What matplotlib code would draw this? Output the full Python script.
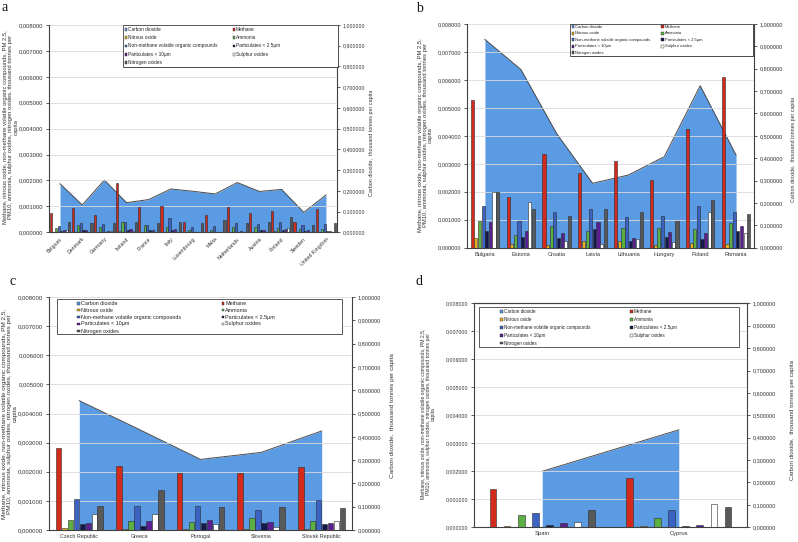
import matplotlib
matplotlib.use("Agg")
import matplotlib.pyplot as plt
from matplotlib.patches import Rectangle
from matplotlib.ticker import FuncFormatter, MultipleLocator
import numpy as np

plt.rcParams['font.family'] = ['Liberation Sans', 'DejaVu Sans']

W, H = 798, 542

LABELS = ["Carbon dioxide", "Methane", "Nitrous oxide", "Ammonia",
          "Non-methane volatile organic compounds", "Particulates < 2.5µm",
          "Particulates < 10µm", "Sulphur oxides", "Nitrogen oxides"]
CO2_COLOR = '#5A9BE3'
BAR_COLORS = ['#D42A1C', '#E8B020', '#5CB043', '#3C62C4', '#15184A', '#5B1F91', '#FFFFFF', '#595959']

# ---------------- Panel a ----------------
A_COUNTRIES = ["Belgium", "Denmark", "Germany", "Ireland", "France", "Italy", "Luxembourg",
               "Malta", "Netherlands", "Austria", "Finland", "Sweden", "United Kingdom"]
A_CO2 = [0.234, 0.132, 0.252, 0.143, 0.158, 0.209, 0.198, 0.185, 0.240, 0.197, 0.207, 0.096, 0.180]
A_METHANE = [0.00074, 0.00095, 0.00067, 0.00192, 0.00098, 0.00102, 0.00041, 0.00067, 0.00098, 0.00074, 0.00081, 0.00039, 0.00089]
A_N2O = [0.00003, 0.00003, 0.00003, 0.00006, 0.00002, 0.00002, 0.00002, 0.00001, 0.00003, 0.00003, 0.00004, 0.00002, 0.00002]
A_NH3 = [0.00015, 0.00028, 0.00020, 0.00040, 0.00027, 0.00022, 0.00010, 0.00010, 0.00020, 0.00020, 0.00018, 0.00013, 0.00013]
A_NMVOC = [0.00026, 0.00035, 0.00032, 0.00038, 0.00027, 0.00055, 0.00022, 0.00026, 0.00035, 0.00032, 0.00039, 0.00030, 0.00033]
A_PM25 = [0.00005, 0.00010, 0.00003, 0.00010, 0.00007, 0.00010, 0.00003, 0.00002, 0.00003, 0.00007, 0.00010, 0.00005, 0.00004]
A_PM10 = [0.00007, 0.00010, 0.00004, 0.00012, 0.00010, 0.00012, 0.00003, 0.00003, 0.00004, 0.00008, 0.00012, 0.00008, 0.00006]
A_SOX = [0.00008, 0.00002, 0.00005, 0.00005, 0.00002, 0.00003, 0.00001, 0.00001, 0.00002, 0.00002, 0.00015, 0.00002, 0.00003]
A_NOX = [0.00041, 0.00037, 0.00037, 0.00038, 0.00036, 0.00041, 0.00034, 0.00048, 0.00037, 0.00041, 0.00058, 0.00028, 0.00037]

# ---------------- Panel b ----------------
B_COUNTRIES = ["Bulgaria", "Estonia", "Croatia", "Latvia", "Lithuania", "Hungary", "Poland", "Romania"]
B_CO2 = [0.931, 0.797, 0.510, 0.288, 0.325, 0.407, 0.724, 0.414]
B_METHANE = [0.00529, 0.00181, 0.00335, 0.00267, 0.00310, 0.00243, 0.00423, 0.00612]
B_N2O = [0.00034, 0.00012, 0.00010, 0.00025, 0.00023, 0.00011, 0.00016, 0.00014]
B_NH3 = [0.00096, 0.00044, 0.00078, 0.00060, 0.00072, 0.00072, 0.00066, 0.00087]
B_NMVOC = [0.00150, 0.00095, 0.00128, 0.00140, 0.00109, 0.00115, 0.00149, 0.00129]
B_PM25 = [0.00061, 0.00038, 0.00034, 0.00067, 0.00023, 0.00038, 0.00031, 0.00060]
B_PM10 = [0.00091, 0.00060, 0.00051, 0.00092, 0.00035, 0.00055, 0.00053, 0.00077]
B_SOX = [0.00200, 0.00163, 0.00025, 0.00012, 0.00030, 0.00022, 0.00126, 0.00054]
B_NOX = [0.00200, 0.00140, 0.00113, 0.00139, 0.00127, 0.00097, 0.00171, 0.00122]

# ---------------- Panel c ----------------
C_COUNTRIES = ["Czech Republic", "Greece", "Portugal", "Slovenia", "Slovak Republic"]
C_CO2 = [0.555, 0.430, 0.303, 0.333, 0.425]
C_METHANE = [0.00281, 0.00220, 0.00195, 0.00194, 0.00215]
C_N2O = [0.00008, 0.00005, 0.00004, 0.00004, 0.00004]
C_NH3 = [0.00033, 0.00030, 0.00027, 0.00042, 0.00030]
C_NMVOC = [0.00106, 0.00081, 0.00084, 0.00069, 0.00103]
C_PM25 = [0.00019, 0.00013, 0.00024, 0.00025, 0.00019]
C_PM10 = [0.00024, 0.00030, 0.00035, 0.00028, 0.00023]
C_SOX = [0.00055, 0.00056, 0.00020, 0.00010, 0.00031]
C_NOX = [0.00083, 0.00136, 0.00080, 0.00078, 0.00076]

# ---------------- Panel d ----------------
D_COUNTRIES = ["Spain", "Cyprus"]
D_CO2 = [0.250, 0.435]
D_METHANE = [0.00136, 0.00175]
D_N2O = [0.00005, 0.00005]
D_NH3 = [0.00044, 0.00032]
D_NMVOC = [0.00052, 0.00062]
D_PM25 = [0.00008, 0.00006]
D_PM10 = [0.00014, 0.00010]
D_SOX = [0.00018, 0.00082]
D_NOX = [0.00062, 0.00074]

LEFT_LABEL = ("Methane, nitrous oxide, non-methane volatile organic compounds, PM 2,5,\n"
              "PM10, ammonia, sulphur oxides, nitrogen oxides, thousand tonnes per\n"
              "capita")
RIGHT_LABEL = "Carbon dioxide,  thousand tonnes per capita"

fig = plt.figure(figsize=(W / 100, H / 100), dpi=100)

left_fmt = FuncFormatter(lambda v, p: f"{v:.6f}".replace('.', ','))
right_fmt = FuncFormatter(lambda v, p: f"{v:.6f}".replace('.', ','))
SPINE = '#404040'
TXT = '#333333'


def fig_rect(x0, y0, x1, y1):
    return [x0 / W, 1 - y1 / H, (x1 - x0) / W, (y1 - y0) / H]


def legend_box(box, cols, rows, fs, shadow):
    bx0, by0, bx1, by1 = box
    if shadow:
        fig.add_artist(Rectangle(((bx0 + 1.3) / W, 1 - (by1 + 1.3) / H), (bx1 - bx0) / W, (by1 - by0) / H,
                                 transform=fig.transFigure, facecolor='#3a3a3a', edgecolor='none', zorder=5))
    fig.add_artist(Rectangle((bx0 / W, 1 - by1 / H), (bx1 - bx0) / W, (by1 - by0) / H,
                             transform=fig.transFigure, facecolor='white', edgecolor=SPINE, lw=0.6, zorder=6))
    colors = [CO2_COLOR] + BAR_COLORS
    s = 2.8
    for i, (lab, col) in enumerate(zip(LABELS, colors)):
        r, c = divmod(i, 2)
        mx, my = cols[c], rows[r]
        fig.add_artist(Rectangle((mx / W, 1 - (my + s / 2) / H), s / W, s / H, transform=fig.transFigure,
                                 facecolor=col, edgecolor='#2b2b2b', lw=0.3, zorder=7))
        fig.text((mx + s + 0.8) / W, 1 - my / H, lab, fontsize=fs, va='center', ha='left', color='#222222', zorder=8)


def panel(rect, cats, co2, series, group_frac, bar_frac, ytick_fs, rtick_fs, xtick_fs,
          llab, rlab, rotate=False, top_spine=False):
    ax = fig.add_axes(fig_rect(*rect))
    ax2 = ax.twinx()
    ax.set_zorder(ax2.get_zorder() + 1)
    ax.patch.set_visible(False)
    n = len(cats)
    x = np.arange(n) + 0.5
    # CO2 area on secondary axis
    ax2.fill_between(x, co2, 0, color=CO2_COLOR, lw=0)
    ax2.plot(x, co2, color='#4a4a4a', lw=0.7)
    ax2.set_ylim(0, 1.0)
    ax2.yaxis.set_major_locator(MultipleLocator(0.1))
    ax2.yaxis.set_major_formatter(right_fmt)
    # bars on primary axis
    slot = group_frac / 8
    for j, (vals, col) in enumerate(zip(series, BAR_COLORS)):
        ax.bar(x + (j - 3.5) * slot, vals, width=slot * bar_frac, color=col,
               edgecolor='#2b2b2b', linewidth=0.4, zorder=3)
    ax.set_ylim(0, 0.008)
    ax.set_xlim(0, n)
    ax.yaxis.set_major_locator(MultipleLocator(0.001))
    ax.yaxis.set_major_formatter(left_fmt)
    ax.set_axisbelow(True)
    ax.yaxis.grid(True, color='#DADADA', lw=0.6)
    ax.set_xticks(x)
    if rotate:
        ax.set_xticklabels(cats, rotation=45, ha='right', rotation_mode='anchor', fontsize=xtick_fs, color=TXT)
    else:
        ax.set_xticklabels(cats, fontsize=xtick_fs, color=TXT)
    ax.tick_params(axis='x', length=0, pad=3)
    ax.tick_params(axis='y', direction='out', length=2.5, width=0.6, color=SPINE,
                   labelsize=ytick_fs, labelcolor=TXT, pad=1.5)
    ax2.tick_params(axis='y', direction='out', length=2.5, width=0.6, color=SPINE,
                    labelsize=rtick_fs, labelcolor=TXT, pad=1.5)
    for a in (ax, ax2):
        for sp in a.spines.values():
            sp.set_color(SPINE)
            sp.set_linewidth(0.8)
        a.spines['top'].set_visible(top_spine)
    ax.spines['right'].set_visible(False)
    ax2.spines['left'].set_visible(False)
    ax2.spines['bottom'].set_visible(False)
    lx, ly, lfs = llab
    ax.text(lx, ly, LEFT_LABEL, transform=ax.transAxes, rotation=90, ha='center', va='center',
            fontsize=lfs, color=TXT, linespacing=1.0, multialignment='center')
    rx, ry, rfs = rlab
    ax.text(rx, ry, RIGHT_LABEL, transform=ax.transAxes, rotation=90, ha='center', va='center',
            fontsize=rfs, color=TXT)
    return ax


panel((49, 25, 337, 232.3), A_COUNTRIES, A_CO2,
      [A_METHANE, A_N2O, A_NH3, A_NMVOC, A_PM25, A_PM10, A_SOX, A_NOX],
      0.96, 0.8, 4.2, 3.8, 3.8, (-0.132, 0.506, 4.2), (1.12, 0.43, 3.9), rotate=True)
legend_box((123, 25, 338, 67), (124.5, 232.5), [29.3, 37.7, 46, 54.3, 62.7], 3.45, True)

panel((467, 24, 754, 247.7), B_COUNTRIES, B_CO2,
      [B_METHANE, B_N2O, B_NH3, B_NMVOC, B_PM25, B_PM10, B_SOX, B_NOX],
      0.81, 0.88, 4.1, 4.0, 4.1, (-0.146, 0.504, 4.2), (1.136, 0.44, 3.8))
legend_box((570, 24, 753, 56), (571.5, 661), [26.7, 33.3, 39.7, 46.3, 52.7], 2.95, True)

panel((49, 297, 352, 530), C_COUNTRIES, C_CO2,
      [C_METHANE, C_N2O, C_NH3, C_NMVOC, C_PM25, C_PM10, C_SOX, C_NOX],
      0.79, 0.92, 4.3, 4.0, 3.9, (-0.129, 0.498, 4.6), (1.135, 0.49, 4.6))
legend_box((57, 299, 342, 334), (77, 221.7), [303.3, 310, 317, 324, 331], 3.9, False)

panel((474, 303.3, 747, 527.3), D_COUNTRIES, D_CO2,
      [D_METHANE, D_N2O, D_NH3, D_NMVOC, D_PM25, D_PM10, D_SOX, D_NOX],
      0.825, 0.48, 3.8, 4.0, 4.2, (-0.168, 0.506, 3.7), (1.168, 0.48, 4.4), top_spine=True)
legend_box((479, 307, 739, 347), (500.5, 630), [311.7, 319.3, 327.3, 335.3, 343], 3.3, False)

serif = ['Liberation Serif', 'DejaVu Serif']
fig.text(2 / W, 1 - 11 / H, 'a', fontsize=10, family=serif, color='#111111')
fig.text(416 / W, 1 - 12 / H, 'b', fontsize=10, family=serif, color='#111111')
fig.text(9 / W, 1 - 285 / H, 'c', fontsize=10, family=serif, color='#111111')
fig.text(416 / W, 1 - 285 / H, 'd', fontsize=10, family=serif, color='#111111')

fig.savefig('out.png', dpi=100)
